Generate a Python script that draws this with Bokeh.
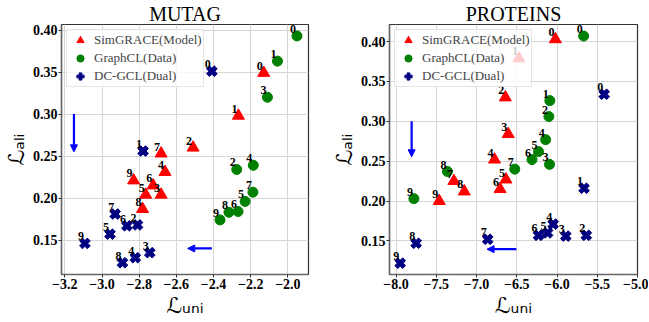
from bokeh.plotting import figure
from bokeh.layouts import row
from bokeh.models import (Range1d, FixedTicker, Arrow, NormalHead,
                          Legend, LegendItem, ColumnDataSource)
from bokeh.embed import file_html
from bokeh.resources import INLINE
from bokeh.core.properties import value
import math

point_ids = ["0", "1", "2", "3", "4", "5", "6", "7", "8", "9"]
series_names = ["SimGRACE(Model)", "GraphCL(Data)", "DC-GCL(Dual)"]
x_axis_title = "\u2112\u1d64\u2099\u1d62"   # L_uni
y_axis_title = "\u2112\u2090\u2097\u1d62"   # L_ali

# ---------------- MUTAG ----------------
mutag_sim_x = [-2.130, -2.266, -2.510, -2.682, -2.661, -2.765, -2.725, -2.682, -2.782, -2.830]
mutag_sim_y = [0.349, 0.298, 0.260, 0.204, 0.231, 0.204, 0.215, 0.253, 0.187, 0.221]
mutag_gcl_x = [-1.951, -2.056, -2.275, -2.110, -2.186, -2.230, -2.268, -2.188, -2.317, -2.365]
mutag_gcl_y = [0.393, 0.363, 0.234, 0.320, 0.239, 0.196, 0.184, 0.207, 0.183, 0.174]
mutag_dc_x = [-2.409, -2.779, -2.809, -2.743, -2.821, -2.957, -2.866, -2.929, -2.890, -3.092]
mutag_dc_y = [0.351, 0.256, 0.168, 0.135, 0.129, 0.157, 0.167, 0.181, 0.123, 0.146]
mutag_xticks = [-3.2, -3.0, -2.8, -2.6, -2.4, -2.2, -2.0]
mutag_xtick_labels = ["\u22123.2", "\u22123.0", "\u22122.8", "\u22122.6", "\u22122.4", "\u22122.2", "\u22122.0"]
mutag_varrow = [-3.151, 0.300, -3.151, 0.255]
mutag_harrow = [-2.409, 0.140, -2.539, 0.140]

# ---------------- PROTEINS ----------------
prot_sim_x = [-6.020, -6.473, -6.642, -6.606, -6.776, -6.634, -6.707, -7.281, -7.152, -7.463]
prot_sim_y = [0.403, 0.379, 0.330, 0.284, 0.252, 0.227, 0.215, 0.225, 0.212, 0.200]
prot_gcl_x = [-5.669, -6.089, -6.101, -6.093, -6.141, -6.230, -6.311, -6.525, -7.361, -7.778]
prot_gcl_y = [0.407, 0.326, 0.306, 0.246, 0.277, 0.262, 0.252, 0.240, 0.237, 0.203]
prot_dc_x = [-5.414, -5.664, -5.636, -5.891, -6.048, -6.117, -6.230, -6.861, -7.750, -7.948]
prot_dc_y = [0.334, 0.216, 0.157, 0.156, 0.171, 0.160, 0.157, 0.152, 0.147, 0.122]
prot_xticks = [-8.0, -7.5, -7.0, -6.5, -6.0, -5.5, -5.0]
prot_xtick_labels = ["\u22128.0", "\u22127.5", "\u22127.0", "\u22126.5", "\u22126.0", "\u22125.5", "\u22125.0"]
prot_varrow = [-7.806, 0.300, -7.806, 0.2555]
prot_harrow = [-6.505, 0.1396, -6.869, 0.1396]

yticks = [0.15, 0.20, 0.25, 0.30, 0.35, 0.40]
ytick_labels = ["0.15", "0.20", "0.25", "0.30", "0.35", "0.40"]

SERIF = "Liberation Serif"
H = 320


def make_panel(title, sx, sy, gx, gy, dx, dy, xr, yr, xticks, xlabels,
               varrow, harrow, width, mbl, mbr):
    p = figure(width=width, height=H, x_range=Range1d(*xr), y_range=Range1d(*yr),
               output_backend="svg", toolbar_location=None,
               min_border_left=mbl, min_border_right=mbr,
               min_border_top=23, min_border_bottom=43)
    p.title.text = title
    p.title.align = "center"
    p.title.text_font = SERIF
    p.title.text_font_style = "normal"
    p.title.text_font_size = "20px"
    p.title.text_color = "black"
    p.title.standoff = 0

    p.background_fill_color = "white"
    p.border_fill_color = "white"
    p.outline_line_color = "#333333"
    p.outline_line_width = 1.2
    p.grid.grid_line_color = "#d6d6d6"
    p.grid.grid_line_width = 1

    for ax in (p.xaxis, p.yaxis):
        ax.axis_line_color = "#666666"
        ax.axis_line_width = 1.5
        ax.major_tick_out = 3
        ax.major_tick_in = 0
        ax.minor_tick_line_color = None
        ax.major_tick_line_color = "#333333"
        ax.major_label_text_font = SERIF
        ax.major_label_text_font_style = "bold"
        ax.major_label_text_font_size = "14px"
        ax.major_label_text_color = "black"
        ax.major_label_standoff = 1
        ax.axis_label_text_font = "DejaVu Sans"
        ax.axis_label_text_font_style = "normal"
        ax.axis_label_text_font_size = "22px"
        ax.axis_label_text_color = "black"
        ax.axis_label_standoff = 1
    p.xaxis.axis_label = x_axis_title
    p.yaxis.axis_label = y_axis_title
    p.xaxis.ticker = FixedTicker(ticks=xticks)
    p.xaxis.major_label_overrides = {t: l for t, l in zip(xticks, xlabels)}
    p.yaxis.ticker = FixedTicker(ticks=yticks)
    p.yaxis.major_label_overrides = {t: l for t, l in zip(yticks, ytick_labels)}

    src_s = ColumnDataSource(dict(x=sx, y=sy, t=point_ids))
    src_g = ColumnDataSource(dict(x=gx, y=gy, t=point_ids))
    src_d = ColumnDataSource(dict(x=dx, y=dy, t=point_ids))

    r1 = p.scatter("x", "y", source=src_s, marker="triangle", size=12,
                   fill_color="red", line_color="red")
    r2 = p.scatter("x", "y", source=src_g, marker="circle", size=10,
                   fill_color="green", line_color="green")
    r3 = p.scatter("x", "y", source=src_d, marker="plus", size=11, angle=math.pi / 4,
                   fill_color="navy", line_color="navy")
    for src in (src_s, src_g, src_d):
        p.text("x", "y", text="t", source=src, x_offset=-4, y_offset=-7,
               text_font=value(SERIF), text_font_style="bold", text_font_size="12px",
               text_align="center", text_baseline="middle", text_color="black")

    for a in (varrow, harrow):
        p.add_layout(Arrow(end=NormalHead(size=7, fill_color="blue", line_color="blue"),
                           x_start=a[0], y_start=a[1], x_end=a[2], y_end=a[3],
                           line_color="blue", line_width=2.2))

    legend = Legend(items=[LegendItem(label=series_names[0], renderers=[r1]),
                           LegendItem(label=series_names[1], renderers=[r2]),
                           LegendItem(label=series_names[2], renderers=[r3])],
                    location="top_left", margin=5, padding=1, spacing=0,
                    glyph_width=24, glyph_height=18, label_height=18,
                    label_standoff=2,
                    label_text_font=SERIF, label_text_font_size="13px",
                    label_text_baseline="middle",
                    background_fill_color="white", background_fill_alpha=0.8,
                    border_line_color="#cccccc", border_line_width=1)
    p.add_layout(legend)
    return p


p1 = make_panel("MUTAG", mutag_sim_x, mutag_sim_y, mutag_gcl_x, mutag_gcl_y,
                mutag_dc_x, mutag_dc_y, (-3.218, -1.889), (0.109, 0.4066),
                mutag_xticks, mutag_xtick_labels, mutag_varrow, mutag_harrow,
                328, 53, 20)
p2 = make_panel("PROTEINS", prot_sim_x, prot_sim_y, prot_gcl_x, prot_gcl_y,
                prot_dc_x, prot_dc_y, (-8.081, -5.0), (0.1078, 0.4215),
                prot_xticks, prot_xtick_labels, prot_varrow, prot_harrow,
                320, 55, 11)

layout = row(p1, p2)
open("out.html", "w").write(file_html(layout, INLINE))
